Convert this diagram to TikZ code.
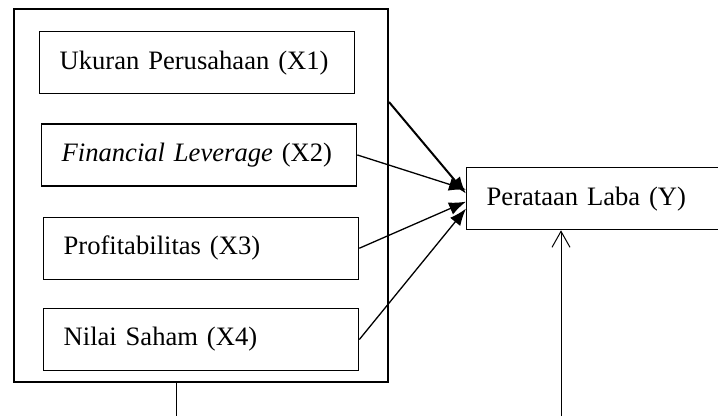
\documentclass[tikz,border=0pt]{standalone}
\usepackage{fontspec}
\setmainfont{Liberation Serif}
\usetikzlibrary{positioning,arrows.meta}

\tikzset{
  basic/.style  = {draw, rectangle, line width=1.3pt, font=\fontsize{26.6}{30}\selectfont},
  var/.style    = {basic, align=left, inner xsep=20pt, text width=275pt, minimum height=62pt},
  outer/.style  = {draw, rectangle, line width=2pt, minimum width=374pt, minimum height=373pt},
  result/.style = {basic, align=left, inner xsep=20pt, text width=220pt, minimum height=62pt}
}

\begin{document}
\begin{tikzpicture}[x=1pt, y=-1pt,
  >={Latex[length=17pt,width=13pt]}]
\useasboundingbox (0,0) rectangle (718,416);

% the frame round the independent variables
\node[outer, anchor=north west] (outer) at (13,8) {};

% the four independent variables
\node[var, anchor=north west] (c1) at (39,31) {Ukuran Perusahaan (X1)};
\node[var, below=29pt of c1, xshift=2pt] (c2) {\textit{Financial Leverage} (X2)};
\node[var, below=30pt of c2, xshift=2pt] (c3) {Profitabilitas (X3)};
\node[var, below=28pt of c3] (c4) {Nilai Saham (X4)};

% the dependent variable
\node[result, anchor=north west] (Y) at (466,167) {Perataan Laba (Y)};

% loose ends of the lines at the bottom
\coordinate (b1) at (176,416);
\coordinate (b2) at (561,416);

% arrows into Y
\draw[->, line width=2pt] ([yshift=-94pt]outer.north east) -- ([yshift=5pt]Y.west);
\foreach \value/\off in {2/9,3/-3,4/-10}
  \draw[->, line width=1.3pt] (c\value.east) -- ([yshift=\off pt]Y.west);

\draw[line width=1pt] (outer.south -| b1) -- (b1);
\draw[-{Straight Barb[length=16pt,width=18pt]}, line width=1pt] (b2) -- (Y.south -| b2);
\end{tikzpicture}
\end{document}
